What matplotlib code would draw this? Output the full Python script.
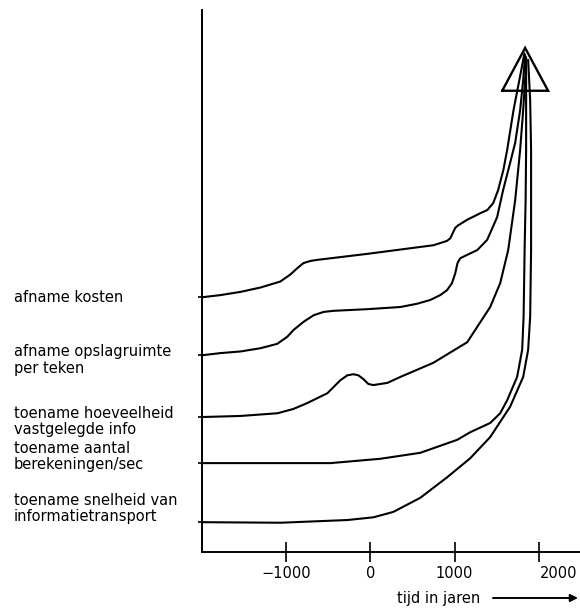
import matplotlib
matplotlib.use("Agg")
import matplotlib.pyplot as plt
from matplotlib.transforms import ScaledTranslation, blended_transform_factory

# Years on the time axis and an arbitrary index (0 = baseline, 100 = top of axis)
kosten_jaar = [-2000, -1780, -1540, -1305, -1070, -950, -866, -795, -712, -630,
               -40, 750, 910, 950, 1008, 1045, 1067, 1150, 1305, 1390, 1460,
               1518, 1580, 1625, 1700, 1770, 1830]
kosten_index = [47.0, 47.4, 48.0, 48.8, 49.9, 51.2, 52.4, 53.3, 53.7, 53.9,
                55.0, 56.6, 57.4, 57.9, 59.8, 60.3, 60.5, 61.3, 62.5, 63.1, 64.4,
                66.8, 70.5, 74.2, 81.5, 87.1, 92.0]

opslag_jaar = [-2000, -1779, -1542, -1305, -1107, -988, -910, -791, -672, -554,
               -435, -39, 356, 554, 712, 830, 910, 969, 1008, 1035, 1067, 1147,
               1269, 1388, 1506, 1577, 1660, 1720, 1779, 1815, 1838]
opslag_index = [36.3, 36.7, 37.0, 37.6, 38.4, 39.7, 41.0, 42.5, 43.7, 44.3,
                44.5, 44.8, 45.2, 45.8, 46.5, 47.4, 48.3, 49.6, 51.4, 53.3, 54.2, 54.8,
                55.7, 57.6, 61.8, 66.8, 71.8, 75.5, 81.5, 87.1, 91.7]

info_jaar = [-2000, -1542, -1103, -913, -747, -510, -356, -273, -202, -142, -83,
             -24, 36, 119, 202, 356, 747, 1150, 1423, 1542, 1637, 1720, 1779,
             1815, 1838, 1850]
info_index = [24.9, 25.1, 25.6, 26.4, 27.5, 29.3, 31.7, 32.6, 32.8, 32.6, 31.9,
              31.0, 30.8, 31.0, 31.2, 32.3, 34.9, 38.7, 45.2, 49.6, 55.7, 64.9, 74.2,
              81.5, 87.1, 91.3]

berekeningen_jaar = [-2000, -474, 119, 593, 1032, 1186, 1423, 1542, 1625, 1743,
                     1803, 1820, 1832, 1844, 1850, 1850, 1850]
berekeningen_index = [16.4, 16.4, 17.2, 18.3, 20.7, 22.1, 23.8, 25.6, 28.0, 32.3,
                      37.3, 43.4, 55.7, 64.9, 74.2, 83.4, 91.1]

transport_jaar = [-2000, -1067, -273, 36, 273, 593, 913, 1186, 1423, 1660, 1815,
                  1874, 1898, 1909, 1909, 1898, 1874]
transport_index = [5.5, 5.4, 5.9, 6.4, 7.4, 10.0, 13.8, 17.3, 21.2, 26.8, 32.3,
                   37.3, 43.4, 55.7, 74.2, 83.4, 90.8]

# Arrowhead at the top where all developments converge
pijl_jaar = [1566, 1838, 2111, 1566]
pijl_index = [85.1, 93.0, 85.1, 85.1]

tijd_ticks = [-1000, 0, 1000, 2000]
tijd_labels = ["\u22121000", "0", "1000", "2000"]

labels = [
    "afname kosten",
    "afname opslagruimte\nper teken",
    "toename hoeveelheid\nvastgelegde info",
    "toename aantal\nberekeningen/sec",
    "toename snelheid van\ninformatietransport",
]
label_y_px = [297, 360, 421.5, 456.5, 508.5]

W, H = 580, 608
fig = plt.figure(figsize=(W / 100, H / 100), dpi=100)
ax = fig.add_axes([202 / W, 56 / H, 378 / W, 542 / H])
ax.set_xlim(-2000, 2490)
ax.set_ylim(0, 100)

series = [
    (kosten_jaar, kosten_index),
    (opslag_jaar, opslag_index),
    (info_jaar, info_index),
    (berekeningen_jaar, berekeningen_index),
    (transport_jaar, transport_index),
]
for xs, ys in series:
    ax.plot(xs, ys, color="black", lw=1.5, solid_joinstyle="round",
            solid_capstyle="round", clip_on=False)

ax.plot(pijl_jaar, pijl_index, color="black", lw=1.7, solid_joinstyle="miter",
        clip_on=False)

for side in ("top", "right"):
    ax.spines[side].set_visible(False)
for side in ("left", "bottom"):
    ax.spines[side].set_linewidth(1.4)

ax.set_xticks(tijd_ticks)
ax.set_xticklabels(tijd_labels, fontsize=10.5)
ax.tick_params(axis="x", direction="inout", length=14, width=1.2, pad=3)
ax.set_yticks([ys[0] for _, ys in series])
ax.set_yticklabels([])
ax.tick_params(axis="y", direction="out", length=3, width=1.2)

last = ax.get_xticklabels()[-1]
last.set_transform(last.get_transform() + ScaledTranslation(0.2, 0, fig.dpi_scale_trans))

for text, ypx in zip(labels, label_y_px):
    fig.text(14 / W, 1 - ypx / H, text, fontsize=10.5, ha="left", va="center",
             linespacing=1.15)

fig.text(397 / W, 1 - 598 / H, "tijd in jaren", fontsize=10.5, ha="left", va="center")
ax.annotate("", xy=(578 / W, 1 - 598 / H), xytext=(493 / W, 1 - 598 / H),
            xycoords="figure fraction", textcoords="figure fraction",
            arrowprops=dict(arrowstyle="-|>", color="black", lw=1.4,
                            mutation_scale=11, shrinkA=0, shrinkB=0))

fig.savefig("out.png", dpi=100)
